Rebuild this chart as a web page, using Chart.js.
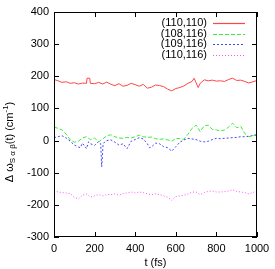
<!DOCTYPE html>
<html>
<head>
<meta charset="utf-8">
<script src="https://cdn.jsdelivr.net/npm/chart.js@4/dist/chart.umd.min.js"></script>
<style>
  html, body { margin: 0; padding: 0; background: #fff; }
  #wrap { width: 275px; height: 269px; }
</style>
</head>
<body>
<div id="wrap"><canvas id="chart" width="275" height="269"></canvas></div>
<script>
// series labels
const labels = ['(110,110)', '(108,116)', '(109,116)', '(110,116)']

// common time grid (fs)
const t = [0, 20, 40, 60, 80, 100, 120, 140, 160, 180, 200, 220, 240, 260, 280, 300, 320, 340, 360, 380,
    400, 420, 440, 460, 480, 500, 520, 540, 560, 580, 600, 620, 640, 660, 680, 700, 720, 740, 760, 780,
    800, 820, 840, 860, 880, 900, 920, 940, 960, 980, 1000]

// (110,110)
const redT = [0, 20, 40, 60, 80, 100, 120, 140, 160, 163, 176, 179, 200, 220, 240, 260, 280, 300, 320, 340,
    360, 380, 400, 420, 440, 460, 480, 500, 520, 540, 560, 580, 600, 620, 640, 660, 680, 690, 700, 710,
    720, 740, 760, 780, 800, 820, 840, 860, 880, 900, 920, 940, 960, 980, 1000]
const redV = [190, 186, 181, 183, 178, 180, 176, 179, 178, 194, 194, 178, 177, 181, 176, 182, 175, 171, 177, 169,
    172, 178, 174, 169, 175, 163, 166, 173, 171, 168, 160, 155, 162, 165, 170, 178, 184, 194, 180, 165,
    178, 189, 186, 188, 185, 186, 184, 190, 194, 187, 188, 184, 179, 183, 187]

// (108,116)
const greenV = [42, 38, 33, 20, 2, -5, -2, 8, 12, 3, 8, -4, 5, 15, 18, 12, 8, 7, 10, 8,
    12, 17, 12, 10, 11, 6, 4, 5, 2, -2, 7, 6, 4, 20, 38, 48, 28, 46, 48, 35,
    33, 30, 33, 42, 54, 40, 44, 22, 12, 14, 22]

// (109,116)
const blueT = [0, 20, 40, 60, 80, 100, 120, 130, 140, 160, 170, 180, 200, 220, 230, 235, 242, 250, 260, 280,
    300, 320, 340, 360, 380, 400, 420, 440, 460, 470, 480, 500, 520, 540, 560, 580, 600, 620, 640, 660,
    680, 700, 720, 740, 760, 780, 800, 820, 840, 860, 880, 900, 920, 940, 960, 980, 1000]
const blueV = [9, 12, 15, 8, -2, -14, -20, -22, -8, -25, -4, -10, -15, -3, -10, -82, -10, -4, 0, 2,
    -5, -14, -10, -25, -2, 3, 9, 5, -10, -22, -20, -8, -10, -19, -22, -33, -19, -5, 2, 7,
    5, 3, -2, -4, -2, 3, 7, 6, 7, 8, 9, 10, 12, 12, 13, 16, 17]

// (110,116)
const magentaV = [-155, -160, -162, -163, -165, -176, -182, -170, -166, -176, -172, -168, -172, -168, -168, -166, -170, -165, -163, -160,
    -163, -160, -162, -166, -168, -166, -168, -172, -176, -186, -174, -172, -170, -166, -160, -160, -168, -162, -158, -157,
    -160, -160, -159, -157, -153, -158, -160, -162, -166, -162, -155]

const xTicks = [0, 200, 400, 600, 800, 1000]
const yTicks = [-300, -200, -100, 0, 100, 200, 300, 400]

const colors = ['rgb(255,70,70)', 'rgb(60,235,60)', 'rgb(70,70,255)', 'rgb(255,80,255)']
const dashes = [[], [4, 2], [2, 2], [1, 2]]
const fontFam = '"Liberation Sans", Arial, sans-serif'

function pts(xs, ys) {
    let out = []
    for (let i = 0; i < xs.length; i++) {
        out.push({x: xs[i], y: ys[i]})
    }
    return out
}

const seriesData = [pts(redT, redV), pts(t, greenV), pts(blueT, blueV), pts(t, magentaV)]

let datasets = []
for (let i = 0; i < labels.length; i++) {
    datasets.push({
        label: labels[i],
        data: seriesData[i],
        borderColor: colors[i],
        borderWidth: 1,
        borderDash: dashes[i],
        pointRadius: 0,
        tension: 0,
        fill: false
    })
}

// frame, inward ticks, legend and axis titles in gnuplot style
const decor = {
    id: 'decor',
    afterDraw(chart) {
        const ctx = chart.ctx
        const a = chart.chartArea
        const xs = chart.scales.x
        const ys = chart.scales.y
        ctx.save()
        ctx.strokeStyle = '#000'
        ctx.lineWidth = 1
        ctx.setLineDash([])
        ctx.strokeRect(a.left + 0.5, a.top + 0.5, a.right - a.left - 1, a.bottom - a.top - 1)
        ctx.beginPath()
        xTicks.forEach(v => {
            const px = Math.round(xs.getPixelForValue(v)) + 0.5
            ctx.moveTo(px, a.bottom); ctx.lineTo(px, a.bottom - 5)
            ctx.moveTo(px, a.top); ctx.lineTo(px, a.top + 5)
        })
        yTicks.forEach(v => {
            const py = Math.round(ys.getPixelForValue(v)) + 0.5
            ctx.moveTo(a.left, py); ctx.lineTo(a.left + 5, py)
            ctx.moveTo(a.right, py); ctx.lineTo(a.right - 5, py)
        })
        ctx.stroke()
        ctx.restore()

        // legend
        ctx.save()
        ctx.font = '11px ' + fontFam
        ctx.fillStyle = '#000'
        ctx.textAlign = 'right'
        ctx.textBaseline = 'middle'
        for (let i = 0; i < labels.length; i++) {
            const y = 23 + i * 10.5
            ctx.fillText(labels[i], 207, y)
        }
        ctx.lineWidth = 1.2
        for (let i = 0; i < labels.length; i++) {
            const y = Math.round(23 + i * 10.5) + 0.5
            ctx.beginPath()
            ctx.strokeStyle = colors[i]
            ctx.setLineDash(dashes[i])
            ctx.moveTo(213, y)
            ctx.lineTo(245, y)
            ctx.stroke()
        }
        ctx.restore()

        ctx.save()
        ctx.font = '11px ' + fontFam
        ctx.fillStyle = '#000'
        ctx.textBaseline = 'middle'
        // x title
        ctx.textAlign = 'center'
        ctx.fillText('t (fs)', (a.left + a.right) / 2, 263)

        // y title with sub/superscripts
        const parts = [
            {s: 'Δ ω', f: 11, dy: 0},
            {s: 'S α β', f: 8, dy: 3},
            {s: '(t) (cm', f: 11, dy: 0},
            {s: '-1', f: 8, dy: -4},
            {s: ')', f: 11, dy: 0}
        ]
        let total = 0
        parts.forEach(p => {
            ctx.font = p.f + 'px ' + fontFam
            p.w = ctx.measureText(p.s).width
            total += p.w
        })
        ctx.translate(10, 142)
        ctx.rotate(-Math.PI / 2)
        ctx.textAlign = 'left'
        let x = -total / 2
        parts.forEach(p => {
            ctx.font = p.f + 'px ' + fontFam
            ctx.fillText(p.s, x, p.dy)
            x += p.w
        })
        ctx.restore()
    }
}

const config = {
    type: 'line',
    data: {datasets: datasets},
    options: {
        responsive: false,
        animation: false,
        layout: {padding: {left: 0, right: 18, top: 12, bottom: 0}},
        plugins: {legend: {display: false}, tooltip: {enabled: false}},
        scales: {
            x: {
                type: 'linear',
                min: 0,
                max: 1000,
                afterBuildTicks: s => { s.ticks = xTicks.map(v => ({value: v})) },
                afterFit: s => { s.height = 32 },
                grid: {display: false, drawTicks: false},
                border: {display: false},
                ticks: {color: '#000', padding: 5, maxRotation: 0, font: {family: fontFam, size: 11},
                    callback: v => String(v)}
            },
            y: {
                type: 'linear',
                min: -300,
                max: 400,
                afterBuildTicks: s => { s.ticks = yTicks.map(v => ({value: v})) },
                afterFit: s => { s.width = 54 },
                grid: {display: false, drawTicks: false},
                border: {display: false},
                ticks: {color: '#000', padding: 5, font: {family: fontFam, size: 11},
                    callback: v => String(v)}
            }
        }
    },
    plugins: [decor]
}

new Chart(document.getElementById('chart'), config)
</script>
</body>
</html>
